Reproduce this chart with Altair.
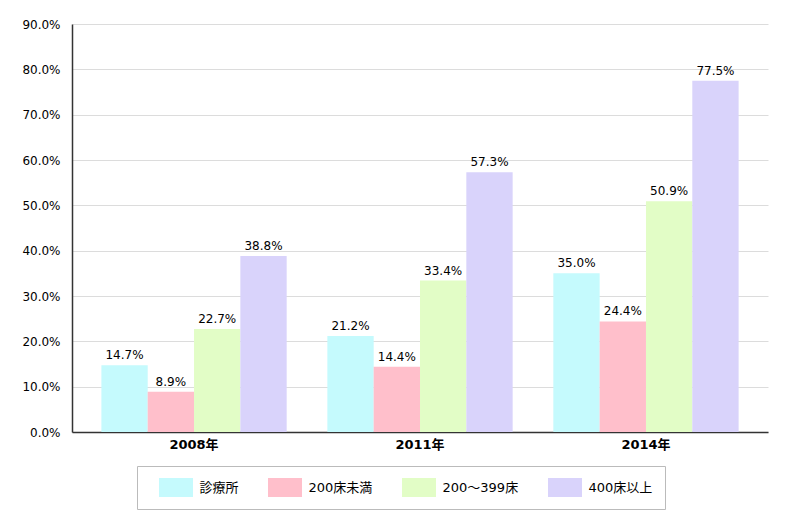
import altair as alt
import pandas as pd

years = ["2008年", "2011年", "2014年"]
types = ["診療所", "200床未満", "200～399床", "400床以上"]
colors = ["#c5fafd", "#ffbfcb", "#e2fdc6", "#d9d3fb"]

# 値 (%)
shinryojo = [14.7, 21.2, 35.0]
under200 = [8.9, 14.4, 24.4]
mid200_399 = [22.7, 33.4, 50.9]
over400 = [38.8, 57.3, 77.5]

series = [shinryojo, under200, mid200_399, over400]
rows = []
for t, vals in zip(types, series):
    for y, v in zip(years, vals):
        rows.append({"年": y, "区分": t, "値": v / 100, "ラベル": f"{v:.1f}%"})
df = pd.DataFrame(rows)

FONT = "DejaVu Sans, Noto Sans CJK JP"

base = alt.Chart(df).encode(
    x=alt.X(
        "年:N",
        sort=years,
        title=None,
        scale=alt.Scale(paddingInner=0.18, paddingOuter=0.13),
        axis=alt.Axis(labelAngle=0, ticks=False, labelFontWeight="bold",
                      labelFontSize=13, labelPadding=6, domainColor="#333",
                      domainWidth=1.5, grid=False, labelColor="#000"),
    ),
    xOffset=alt.XOffset("区分:N", sort=types, scale=alt.Scale(paddingInner=0)),
    y=alt.Y(
        "値:Q",
        title=None,
        scale=alt.Scale(domain=[0, 0.9], nice=False),
        axis=alt.Axis(format=".1%", values=[i / 10 for i in range(10)],
                      ticks=False, domainColor="#333", domainWidth=1.5,
                      gridColor="#dcdcdc", labelPadding=12, labelFontSize=12,
                      labelColor="#000"),
    ),
)

# 凡例の記号: 横長の四角 (高さ19px, 幅34px)
legend_symbol = "M-1.79,-1L1.79,-1L1.79,1L-1.79,1Z"

bars = base.mark_bar().encode(
    color=alt.Color(
        "区分:N",
        sort=types,
        scale=alt.Scale(domain=types, range=colors),
        legend=alt.Legend(
            orient="none", legendX=65, legendY=442, direction="horizontal",
            title=" ", titleOrient="left", titlePadding=10, titleFontSize=1,
            strokeColor="#bbb", padding=12,
            symbolType=legend_symbol, symbolSize=361, symbolOffset=7.5,
            symbolStrokeWidth=0, symbolOpacity=1, columnPadding=28,
            labelOffset=14, labelFontSize=13, labelColor="#000",
        ),
    )
)

text = base.mark_text(baseline="bottom", dy=-3, fontSize=12, color="#000").encode(
    text="ラベル:N"
)

chart = (
    alt.layer(bars, text)
    .properties(
        width=696,
        height=408,
        padding={"left": 64, "top": 16, "right": 24, "bottom": 80},
        autosize=alt.AutoSizeParams(type="none"),
    )
    .configure(font=FONT)
    .configure_view(stroke=None)
)

chart.save("out.html", embed_options={"renderer": "svg", "actions": False})
